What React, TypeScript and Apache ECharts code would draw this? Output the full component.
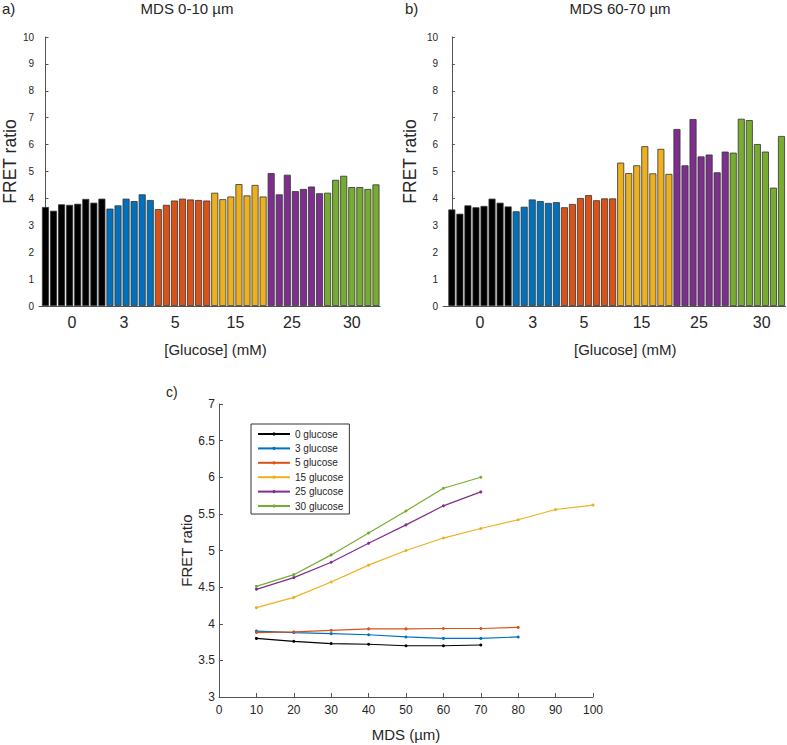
import React, { useEffect, useRef } from "react";
import * as echarts from "echarts";

// ---- Data ----
const glucoseLabels = ["0", "3", "5", "15", "25", "30"];

// Panel a: MDS 0-10 µm, FRET ratio per cell, grouped by glucose
const a_g0 = [3.68, 3.54, 3.78, 3.76, 3.8, 3.98, 3.84, 3.99];
const a_g3 = [3.62, 3.74, 3.99, 3.9, 4.15, 3.94];
const a_g5 = [3.6, 3.76, 3.92, 3.99, 3.96, 3.94, 3.92];
const a_g15 = [4.21, 3.97, 4.07, 4.53, 4.11, 4.5, 4.07];
const a_g25 = [4.94, 4.15, 4.88, 4.27, 4.35, 4.44, 4.19];
const a_g30 = [4.21, 4.69, 4.84, 4.42, 4.42, 4.35, 4.52];

// Panel b: MDS 60-70 µm
const b_g0 = [3.59, 3.43, 3.74, 3.67, 3.72, 3.99, 3.84, 3.7];
const b_g3 = [3.52, 3.69, 3.96, 3.9, 3.83, 3.86];
const b_g5 = [3.67, 3.79, 4.01, 4.12, 3.93, 4.0, 4.0];
const b_g15 = [5.33, 4.94, 5.23, 5.94, 4.93, 5.84, 4.91];
const b_g25 = [6.58, 5.23, 6.95, 5.56, 5.63, 4.97, 5.74];
const b_g30 = [5.7, 6.96, 6.91, 6.02, 5.74, 4.4, 6.32];

// Panel c: mean FRET ratio vs MDS
const mdsValues = [10, 20, 30, 40, 50, 60, 70, 80, 90, 100];
const c_g0 = [3.8, 3.76, 3.73, 3.72, 3.7, 3.7, 3.71];
const c_g3 = [3.9, 3.88, 3.865, 3.85, 3.82, 3.8, 3.8, 3.82];
const c_g5 = [3.88, 3.89, 3.91, 3.93, 3.93, 3.935, 3.935, 3.95];
const c_g15 = [4.22, 4.36, 4.57, 4.8, 5.0, 5.17, 5.3, 5.42, 5.56, 5.62];
const c_g25 = [4.47, 4.63, 4.84, 5.1, 5.35, 5.61, 5.8];
const c_g30 = [4.51, 4.67, 4.94, 5.24, 5.54, 5.85, 6.0];
const seriesNames = ["0 glucose", "3 glucose", "5 glucose", "15 glucose", "25 glucose", "30 glucose"];

// ---- Style ----
const COLORS = ["#000000", "#0072BD", "#D95319", "#EDB120", "#7E2F8E", "#77AC30"];
const FONT = "Liberation Sans, Arial, Helvetica, sans-serif";
const AXIS_COLOR = "#555";
const TEXT_COLOR = "#262626";

function buildBars(groups: number[][]) {
  const out: any[] = [];
  let idx = 0;
  groups.forEach((g, gi) => {
    g.forEach((v) => {
      out.push({ value: [idx, v], itemStyle: { color: COLORS[gi] } });
      idx++;
    });
  });
  return out;
}

const ticksA = [3.28, 9.75, 16.1, 23.57, 30.58, 38.0];
const ticksB = [3.5, 10.06, 16.44, 23.6, 30.74, 38.54];

function labelFor(ticks: number[]) {
  return (v: number) => {
    let best = 0;
    let bd = Infinity;
    ticks.forEach((t, i) => {
      const d = Math.abs(t - v);
      if (d < bd) {
        bd = d;
        best = i;
      }
    });
    return glucoseLabels[best];
  };
}

function barXAxis(gridIndex: number, min: number, max: number, ticks: number[], padLeft: number) {
  return {
    type: "value",
    gridIndex,
    min,
    max,
    axisLine: { show: true, lineStyle: { color: AXIS_COLOR, width: 1 } },
    axisTick: { show: false },
    splitLine: { show: false },
    axisLabel: {
      customValues: ticks,
      formatter: labelFor(ticks),
      fontSize: 16,
      color: TEXT_COLOR,
      fontFamily: FONT,
      margin: 8,
    },
    name: "[Glucose] (mM)",
    nameLocation: "middle",
    nameGap: 36,
    nameTextStyle: { fontSize: 15, color: TEXT_COLOR, fontFamily: FONT, padding: [0, 0, 0, padLeft] },
  };
}

function barYAxis(gridIndex: number, nameGap: number) {
  return {
    type: "value",
    gridIndex,
    min: 0,
    max: 10,
    interval: 1,
    axisLine: { show: true, lineStyle: { color: AXIS_COLOR, width: 1 } },
    axisTick: { show: true, inside: true, length: 3, lineStyle: { color: AXIS_COLOR } },
    splitLine: { show: false },
    axisLabel: { fontSize: 10, color: TEXT_COLOR, fontFamily: FONT, margin: 5 },
    name: "FRET ratio",
    nameLocation: "middle",
    nameGap,
    nameTextStyle: { fontSize: 17.5, color: TEXT_COLOR, fontFamily: FONT, padding: [0, 0, 0, 20] },
  };
}

export default function App() {
  const ref = useRef<HTMLDivElement>(null);
  useEffect(() => {
    if (!ref.current) return;
    const chart = echarts.init(ref.current, undefined, { renderer: "svg" });
    const lineData = [c_g0, c_g3, c_g5, c_g15, c_g25, c_g30];
    const option: any = {
      animation: false,
      backgroundColor: "#fff",
      textStyle: { fontFamily: FONT },
      grid: [
        { left: 38, top: 37, width: 342, height: 269 },
        { left: 443, top: 37, width: 342.5, height: 269 },
        { left: 219, top: 404, width: 374, height: 293 },
      ],
      xAxis: [
        barXAxis(0, -0.8, 41.5, ticksA, 12),
        barXAxis(1, -1.1, 41.5, ticksB, 22),
        {
          type: "value",
          gridIndex: 2,
          min: 0,
          max: 100,
          interval: 10,
          axisLine: { show: true, lineStyle: { color: AXIS_COLOR, width: 1 } },
          axisTick: { show: true, inside: true, length: 4, lineStyle: { color: AXIS_COLOR } },
          splitLine: { show: false },
          axisLabel: { fontSize: 12, color: TEXT_COLOR, fontFamily: FONT, margin: 7 },
          name: "MDS (µm)",
          nameLocation: "middle",
          nameGap: 30,
          nameTextStyle: { fontSize: 15, color: TEXT_COLOR, fontFamily: FONT },
        },
      ],
      yAxis: [
        barYAxis(0, 20),
        barYAxis(1, 24),
        {
          type: "value",
          gridIndex: 2,
          min: 3,
          max: 7,
          interval: 0.5,
          axisLine: { show: true, lineStyle: { color: AXIS_COLOR, width: 1 } },
          axisTick: { show: true, inside: true, length: 4, lineStyle: { color: AXIS_COLOR } },
          splitLine: { show: false },
          axisLabel: { fontSize: 12, color: TEXT_COLOR, fontFamily: FONT, margin: 4 },
          name: "FRET ratio",
          nameLocation: "middle",
          nameGap: 24.5,
          nameTextStyle: { fontSize: 15, color: TEXT_COLOR, fontFamily: FONT },
        },
      ],
      legend: {
        left: 251,
        top: 424,
        orient: "vertical",
        data: seriesNames,
        itemWidth: 32,
        itemHeight: 4,
        itemGap: 4.4,
        padding: [5, 6, 3, 6],
        borderColor: "#333",
        borderWidth: 1,
        backgroundColor: "#fff",
        textStyle: { fontSize: 10, lineHeight: 10, color: TEXT_COLOR, fontFamily: FONT },
      },
      graphic: [
        { type: "text", x: 2, y: 8, style: { text: "a)", fontSize: 15, fontFamily: FONT, fill: TEXT_COLOR, verticalAlign: "middle" } },
        { type: "text", x: 187, y: 8, style: { text: "MDS 0-10 µm", fontSize: 15, fontFamily: FONT, fill: TEXT_COLOR, align: "center", verticalAlign: "middle" } },
        { type: "text", x: 405, y: 8, style: { text: "b)", fontSize: 15, fontFamily: FONT, fill: TEXT_COLOR, verticalAlign: "middle" } },
        { type: "text", x: 620, y: 8, style: { text: "MDS 60-70 µm", fontSize: 15, fontFamily: FONT, fill: TEXT_COLOR, align: "center", verticalAlign: "middle" } },
        { type: "text", x: 166, y: 392, style: { text: "c)", fontSize: 14, fontFamily: FONT, fill: TEXT_COLOR, verticalAlign: "middle" } },
      ],
      series: [
        {
          type: "bar",
          xAxisIndex: 0,
          yAxisIndex: 0,
          barWidth: 7,
          data: buildBars([a_g0, a_g3, a_g5, a_g15, a_g25, a_g30]),
          itemStyle: { borderColor: "#333", borderWidth: 0.8 },
        },
        {
          type: "bar",
          xAxisIndex: 1,
          yAxisIndex: 1,
          barWidth: 7,
          data: buildBars([b_g0, b_g3, b_g5, b_g15, b_g25, b_g30]),
          itemStyle: { borderColor: "#333", borderWidth: 0.8 },
        },
        ...lineData.map((vals, i) => ({
          type: "line",
          name: seriesNames[i],
          xAxisIndex: 2,
          yAxisIndex: 2,
          data: vals.map((v, j) => [mdsValues[j], v]),
          symbol: "circle",
          symbolSize: 3,
          showSymbol: true,
          lineStyle: { color: COLORS[i], width: 1.2 },
          itemStyle: { color: COLORS[i] },
        })),
      ],
    };
    chart.setOption(option);
    return () => chart.dispose();
  }, []);
  return (
    <div
      ref={ref}
      style={{ position: "fixed", left: 0, top: 0, width: 787, height: 745, background: "#fff" }}
    />
  );
}
